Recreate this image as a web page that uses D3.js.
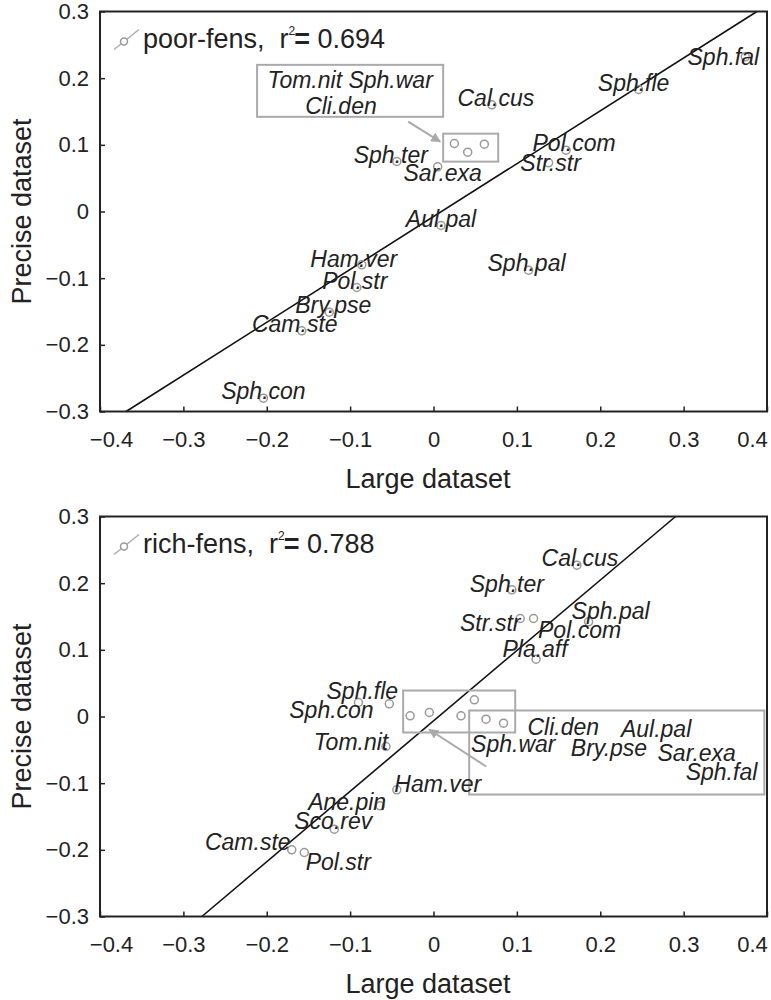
<!DOCTYPE html>
<html>
<head>
<meta charset="utf-8">
<script src="https://cdn.jsdelivr.net/npm/d3@7"></script>
<style>
  body { margin: 0; background: #fff; }
  text { font-family: Arial, "Liberation Sans", sans-serif; fill: #222; }
</style>
</head>
<body>
<div id="chart"></div>
<script>
// ticks
const xTicks = [-0.4, -0.3, -0.2, -0.1, 0, 0.1, 0.2, 0.3, 0.4];
const yTicks = [-0.3, -0.2, -0.1, 0, 0.1, 0.2, 0.3];

// poor fens
const poorNames   = ["Sph.fal", "Sph.fle", "Cal.cus", "Pol.com", "Str.str", "Sar.exa", "Sph.ter", "Tom.nit", "Sph.war", "Cli.den",
                     "Aul.pal", "Sph.pal", "Ham.ver", "Pol.str", "Bry.pse", "Cam.ste", "Sph.con"];
const poorLarge   = [0.374, 0.246, 0.070, 0.159, 0.138, 0.005, -0.044, 0.025, 0.041, 0.061,
                     0.009, 0.114, -0.086, -0.092, -0.125, -0.158, -0.204];
const poorPrecise = [0.232, 0.183, 0.160, 0.092, 0.073, 0.067, 0.075, 0.102, 0.089, 0.101,
                     -0.021, -0.088, -0.080, -0.114, -0.151, -0.179, -0.280];
const poorFit = [0.793, -0.0076];
const poorR2 = "0.694";
const poorBoxed = ["Tom.nit", "Sph.war", "Cli.den"];

// rich fens
const richNames   = ["Cal.cus", "Sph.ter", "Str.str", "Pol.com", "Sph.pal", "Pla.aff", "Sph.fle", "Sph.con",
                     "Cli.den", "Aul.pal", "Sph.war", "Bry.pse", "Sar.exa", "Sph.fal",
                     "Tom.nit", "Ham.ver", "Ane.pin", "Sco.rev", "Cam.ste", "Pol.str"];
const richLarge   = [0.172, 0.094, 0.104, 0.120, 0.186, 0.123, -0.053, -0.090,
                     -0.028, -0.005, 0.033, 0.049, 0.063, 0.084,
                     -0.057, -0.044, -0.064, -0.119, -0.170, -0.155];
const richPrecise = [0.227, 0.190, 0.147, 0.147, 0.142, 0.086, 0.019, 0.021,
                     0.001, 0.006, 0.001, 0.025, -0.004, -0.010,
                     -0.045, -0.110, -0.134, -0.169, -0.200, -0.204];
const richFit = [1.056, -0.0066];
const richR2 = "0.788";
const richBoxed = ["Cli.den", "Aul.pal", "Sph.war", "Bry.pse", "Sar.exa", "Sph.fal"];

// label nudges in px (text centre relative to point)
const poorNudge = {
  "Sph.fal": [-22, 0], "Sph.fle": [-5, -7], "Cal.cus": [4, -7], "Pol.com": [8, -7], "Str.str": [2, 0],
  "Sar.exa": [5, 6], "Sph.ter": [-6, -7], "Aul.pal": [0, -7], "Sph.pal": [-2, -7], "Ham.ver": [-8, -6],
  "Pol.str": [-2, -7], "Bry.pse": [4, -7], "Cam.ste": [-7, -7], "Sph.con": [0, -7]
};
const richNudge = {
  "Cal.cus": [3, -7], "Sph.ter": [-5, -6], "Str.str": [-30, 4], "Pol.com": [46, 11], "Sph.pal": [22, -11],
  "Pla.aff": [-1, -10], "Sph.fle": [-27, -13], "Sph.con": [-27, 7], "Tom.nit": [-35, -5], "Ham.ver": [41, -6],
  "Ane.pin": [-33, -4], "Sco.rev": [-1, -8], "Cam.ste": [-44, -8], "Pol.str": [34, 9]
};

const svg = d3.select("#chart").append("svg").attr("width", 771).attr("height", 1000);

svg.append("defs").append("marker")
  .attr("id", "head").attr("viewBox", "0 0 10 10").attr("refX", 9).attr("refY", 5)
  .attr("markerWidth", 5).attr("markerHeight", 5).attr("orient", "auto")
  .append("path").attr("d", "M0,0L10,5L0,10z").attr("fill", "#aaa");

function drawPanel(p) {
  const x = d3.scaleLinear().domain([-0.4, 0.4]).range([100, 767]);
  const y = d3.scaleLinear().domain([-0.3, 0.3]).range([p.bottom, p.top]);
  const g = svg.append("g");

  // regression line, clipped to the y range
  const m = p.fit[0], b = p.fit[1];
  const xa = Math.max(-0.4, (-0.3 - b) / m), xb = Math.min(0.4, (0.3 - b) / m);
  g.append("line")
    .attr("x1", x(xa)).attr("y1", y(m * xa + b))
    .attr("x2", x(xb)).attr("y2", y(m * xb + b))
    .attr("stroke", "#111").attr("stroke-width", 1.6);

  // annotation boxes
  g.selectAll("rect.box").data(p.boxes).enter().append("rect")
    .attr("x", d => x(d[0])).attr("y", d => y(d[3]))
    .attr("width", d => x(d[1]) - x(d[0])).attr("height", d => y(d[2]) - y(d[3]))
    .attr("fill", "none").attr("stroke", "#aaa").attr("stroke-width", 2);

  g.append("line")
    .attr("x1", x(p.arrow[0])).attr("y1", y(p.arrow[1]))
    .attr("x2", x(p.arrow[2])).attr("y2", y(p.arrow[3]))
    .attr("stroke", "#aaa").attr("stroke-width", 2).attr("marker-end", "url(#head)");

  const pts = p.names.map((n, i) => ({ n: n, lx: p.large[i], py: p.precise[i] }));

  g.selectAll("circle.pt").data(pts).enter().append("circle")
    .attr("cx", d => x(d.lx)).attr("cy", d => y(d.py)).attr("r", 4)
    .attr("fill", "none").attr("stroke", "#999").attr("stroke-width", 1.5);

  g.selectAll("text.lab").data(pts.filter(d => !p.boxed.includes(d.n))).enter().append("text")
    .attr("x", d => x(d.lx) + (p.nudge[d.n] || [0, -7])[0])
    .attr("y", d => y(d.py) + (p.nudge[d.n] || [0, -7])[1])
    .attr("dy", "0.35em").attr("text-anchor", "middle")
    .style("font-size", "23px").style("font-style", "italic")
    .text(d => d.n);

  g.selectAll("text.boxlab").data(p.boxText).enter().append("text")
    .attr("x", d => x(d[1])).attr("y", d => y(d[2]))
    .attr("dy", "0.35em").attr("text-anchor", "middle")
    .style("font-size", "23px").style("font-style", "italic")
    .text(d => d[0]);

  // axes
  const fmt = d => d === 0 ? "0" : d3.format(".1f")(d);
  const gx = g.append("g").attr("transform", `translate(0,${p.bottom})`)
    .call(d3.axisBottom(x).tickValues(xTicks).tickFormat(fmt).tickSizeInner(-5).tickSizeOuter(0).tickPadding(20));
  const gy = g.append("g").attr("transform", "translate(100,0)")
    .call(d3.axisLeft(y).tickValues(yTicks).tickFormat(fmt).tickSizeInner(-5).tickSizeOuter(0).tickPadding(11));
  [gx, gy].forEach(a => {
    a.select(".domain").remove();
    a.selectAll(".tick line").attr("stroke", "#222").attr("stroke-width", 1.5);
    a.selectAll(".tick text").style("font-size", "22px").style("font-family", "Arial, 'Liberation Sans', sans-serif").attr("fill", "#222");
  });
  gx.selectAll(".tick text").filter(d => d === -0.4).attr("dx", 11);
  gx.selectAll(".tick text").filter(d => d === 0.4).attr("dx", -15);

  // frame
  g.append("rect")
    .attr("x", 100).attr("y", p.top).attr("width", 667).attr("height", p.bottom - p.top)
    .attr("fill", "none").attr("stroke", "#222").attr("stroke-width", 2);

  // legend
  g.append("line")
    .attr("x1", 114).attr("y1", p.top + 38).attr("x2", 139).attr("y2", p.top + 18)
    .attr("stroke", "#aaa").attr("stroke-width", 1.5);
  g.append("circle").attr("cx", 124).attr("cy", p.top + 30).attr("r", 3.5)
    .attr("fill", "#fff").attr("stroke", "#999").attr("stroke-width", 1.5);
  const lt = g.append("text").attr("x", 143).attr("y", p.top + 36)
    .style("font-size", "27px").style("white-space", "pre");
  lt.append("tspan").text(p.group + ",  r");
  lt.append("tspan").attr("dx", 0).attr("dy", -13).style("font-size", "12px").text("2");
  lt.append("tspan").attr("dx", -1).attr("dy", 13).style("font-weight", "bold").text("=");
  lt.append("tspan").text(" " + p.r2);

  // axis titles
  g.append("text").attr("x", 428).attr("y", p.bottom + 76).attr("text-anchor", "middle")
    .style("font-size", "27px").text("Large dataset");
  g.append("text").attr("transform", `translate(31,${(p.top + p.bottom) / 2}) rotate(-90)`)
    .attr("text-anchor", "middle").style("font-size", "27px").text("Precise dataset");
}

drawPanel({
  top: 11.5, bottom: 411.5, group: "poor-fens", r2: poorR2, fit: poorFit,
  names: poorNames, large: poorLarge, precise: poorPrecise, boxed: poorBoxed, nudge: poorNudge,
  boxes: [[0.0116, 0.0776, 0.0748, 0.1168], [-0.2116, 0.0116, 0.142, 0.22]],
  arrow: [-0.0304, 0.1347, 0.008, 0.1048],
  boxText: [["Tom.nit Sph.war", -0.1, 0.1976], ["Cli.den", -0.111, 0.1587]]
});

drawPanel({
  top: 516.5, bottom: 916.5, group: "rich-fens", r2: richR2, fit: richFit,
  names: richNames, large: richLarge, precise: richPrecise, boxed: richBoxed, nudge: richNudge,
  boxes: [[-0.0364, 0.098, -0.024, 0.039], [0.0428, 0.3968, -0.117, 0.009]],
  arrow: [0.0632, -0.075, -0.0052, -0.0195],
  boxText: [["Cli.den", 0.1557, -0.0153], ["Aul.pal", 0.267, -0.0188], ["Sph.war", 0.0957, -0.0412],
            ["Bry.pse", 0.2105, -0.0473], ["Sar.exa", 0.3157, -0.0548], ["Sph.fal", 0.3454, -0.0833]]
});
</script>
</body>
</html>
